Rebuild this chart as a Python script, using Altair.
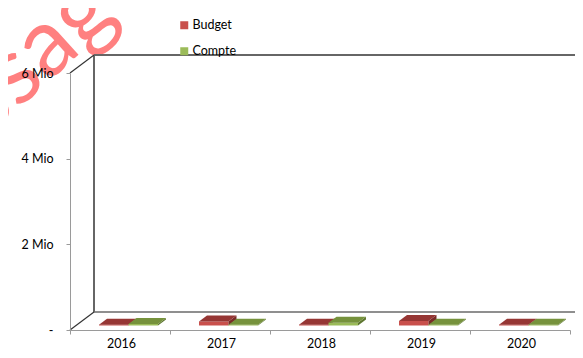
import json
import altair as alt
import pandas as pd

# ---- data ----
years = ["2016", "2017", "2018", "2019", "2020"]
budget = [20000, 95000, 20000, 105000, 20000]
compte = [35000, 20000, 65000, 20000, 20000]
series = ["Budget", "Compte"]
y_ticks = [0, 2000000, 4000000, 6000000]

# ---- layout / style ----
W, H = 500, 257
Y_MAX = 6000000
PX_X = W / len(years)          # px per category
PX_Y = H / Y_MAX               # px per value unit
WALL = (24, 18)                # depth of the floor (px)
FRONT = (6, 4.5)               # bar front offset (px)
DEPTH = (8, 6)                 # bar depth (px)
BAR_START, BAR_W = 0.23, 0.295
top_col = {"Budget": "#963634", "Compte": "#76923C"}
side_col = {"Budget": "#7A2A28", "Compte": "#5E7630"}
legend_col = ["#C9504C", "#9BBB59"]
FONT = "Lato"


def ux(px):
    return px / PX_X


def uy(px):
    return px / PX_Y


rows_front, rows_top, rows_side = {}, {}, {}
for s, vals in zip(series, [budget, compte]):
    rf, rt, rs = [], [], []
    k = series.index(s)
    for i, v in enumerate(vals):
        x0 = i + BAR_START + k * BAR_W + ux(FRONT[0])
        x1 = x0 + BAR_W
        b = uy(FRONT[1])
        top = v + b
        dx, dy = ux(DEPTH[0]), uy(DEPTH[1])
        rf.append({"series": s, "x": x0, "x2": x1, "y": b, "y2": top})
        bid = f"{s}{i}"
        for xx, ya, yb in [(x0, top, top), (x0 + dx, top, top + dy),
                           (x1, top, top + dy), (x1 + dx, top + dy, top + dy)]:
            rt.append({"bar": bid, "x": xx, "y": ya, "y2": yb})
        for xx, ya, yb in [(x1, b, top), (x1 + dx, b + dy, top + dy)]:
            rs.append({"bar": bid, "x": xx, "y": ya, "y2": yb})
    rows_front[s] = pd.DataFrame(rf)
    rows_top[s] = pd.DataFrame(rt)
    rows_side[s] = pd.DataFrame(rs)

xs = alt.Scale(domain=[0, len(years)], nice=False, zero=False)
ys = alt.Scale(domain=[0, Y_MAX], nice=False)

label_expr_x = f"datum.value < {len(years)} ? {json.dumps(years)}[datum.value] : ''"
label_expr_y = "datum.value == 0 ? '-\u00a0\u00a0' : format(datum.value / 1000000, 'd') + ' Mio'"

one = pd.DataFrame({"a": [0]})


def rule(x, y, x2=None, y2=None, color="#666666", width=2, **offs):
    enc = {"x": alt.datum(x, scale=xs), "y": alt.datum(y, scale=ys)}
    if x2 is not None:
        enc["x2"] = alt.datum(x2)
    if y2 is not None:
        enc["y2"] = alt.datum(y2)
    return alt.Chart(one).mark_rule(color=color, strokeWidth=width, **offs).encode(**enc)


watermark = alt.Chart(pd.DataFrame({"t": ["ssag"]})).mark_text(
    font=FONT, fontSize=95, color="#FF7373", opacity=0.9, angle=318,
    align="center", baseline="middle").encode(
    x=alt.value(-36), y=alt.value(-17), text="t:N")

axes_layer = alt.Chart(one).mark_point(opacity=0).encode(
    x=alt.X("a:Q", scale=xs, title=None,
            axis=alt.Axis(values=list(range(len(years) + 1)), labelExpr=label_expr_x,
                          labelOffset=PX_X / 2 + 1, labelFlush=False, labelBound=False,
                          labelOverlap=False, grid=False, domainColor="#9a9a9a",
                          tickColor="#9a9a9a", tickSize=4, labelPadding=3, zindex=1,
                          labelFont=FONT, labelFontSize=12.5, labelColor="#000000")),
    y=alt.Y("a:Q", scale=ys, title=None,
            axis=alt.Axis(values=y_ticks, labelExpr=label_expr_y, grid=False,
                          domainColor="#9a9a9a", tickColor="#9a9a9a", tickSize=4,
                          labelPadding=13, labelFont=FONT, labelFontSize=12.5, zindex=1,
                          labelColor="#000000")),
)

frame = [
    rule(0, 0, y2=Y_MAX, xOffset=WALL[0], yOffset=-WALL[1], y2Offset=-WALL[1]),
    rule(0, Y_MAX, x2=len(years) + 0.5, xOffset=WALL[0], yOffset=-WALL[1], x2Offset=WALL[0]),
    rule(0, 0, x2=len(years) + 0.5, xOffset=WALL[0], yOffset=-WALL[1], x2Offset=WALL[0],
         color="#6a6a6a", width=1.5),
    rule(0, Y_MAX, x2=0, y2=Y_MAX, x2Offset=WALL[0], y2Offset=-WALL[1], color="#333333", width=1.2),
    rule(0, 0, x2=0, y2=0, x2Offset=WALL[0], y2Offset=-WALL[1], color="#333333", width=1.2),
]

bars = []
for s in series:
    bars.append(alt.Chart(rows_front[s]).mark_rect().encode(
        x=alt.X("x:Q", scale=xs), x2="x2:Q",
        y=alt.Y("y:Q", scale=ys), y2="y2:Q",
        color=alt.Color("series:N", scale=alt.Scale(domain=series, range=legend_col),
                        legend=alt.Legend(title=None, orient="none", legendX=108, legendY=-54,
                                          symbolType="square", symbolSize=64,
                                          symbolStrokeWidth=0, labelFont=FONT,
                                          labelFontSize=12.5, labelColor="#000000",
                                          rowPadding=13, labelOffset=2, padding=0)),
    ))
    bars.append(alt.Chart(rows_side[s]).mark_area(orient="vertical", color=side_col[s]).encode(
        x=alt.X("x:Q", scale=xs), y=alt.Y("y:Q", scale=ys), y2="y2:Q", detail="bar:N"))
    bars.append(alt.Chart(rows_top[s]).mark_area(orient="vertical", color=top_col[s]).encode(
        x=alt.X("x:Q", scale=xs), y=alt.Y("y:Q", scale=ys), y2="y2:Q", detail="bar:N"))

chart = alt.layer(watermark, axes_layer, *frame, *bars).properties(
    width=W, height=H, background="white",
    padding={"left": 62, "top": 65, "right": 5, "bottom": 20},
    autosize=alt.AutoSizeParams(type="none"),
).configure_view(strokeWidth=0)

chart.save("out.html", embed_options={"renderer": "svg", "actions": False})
